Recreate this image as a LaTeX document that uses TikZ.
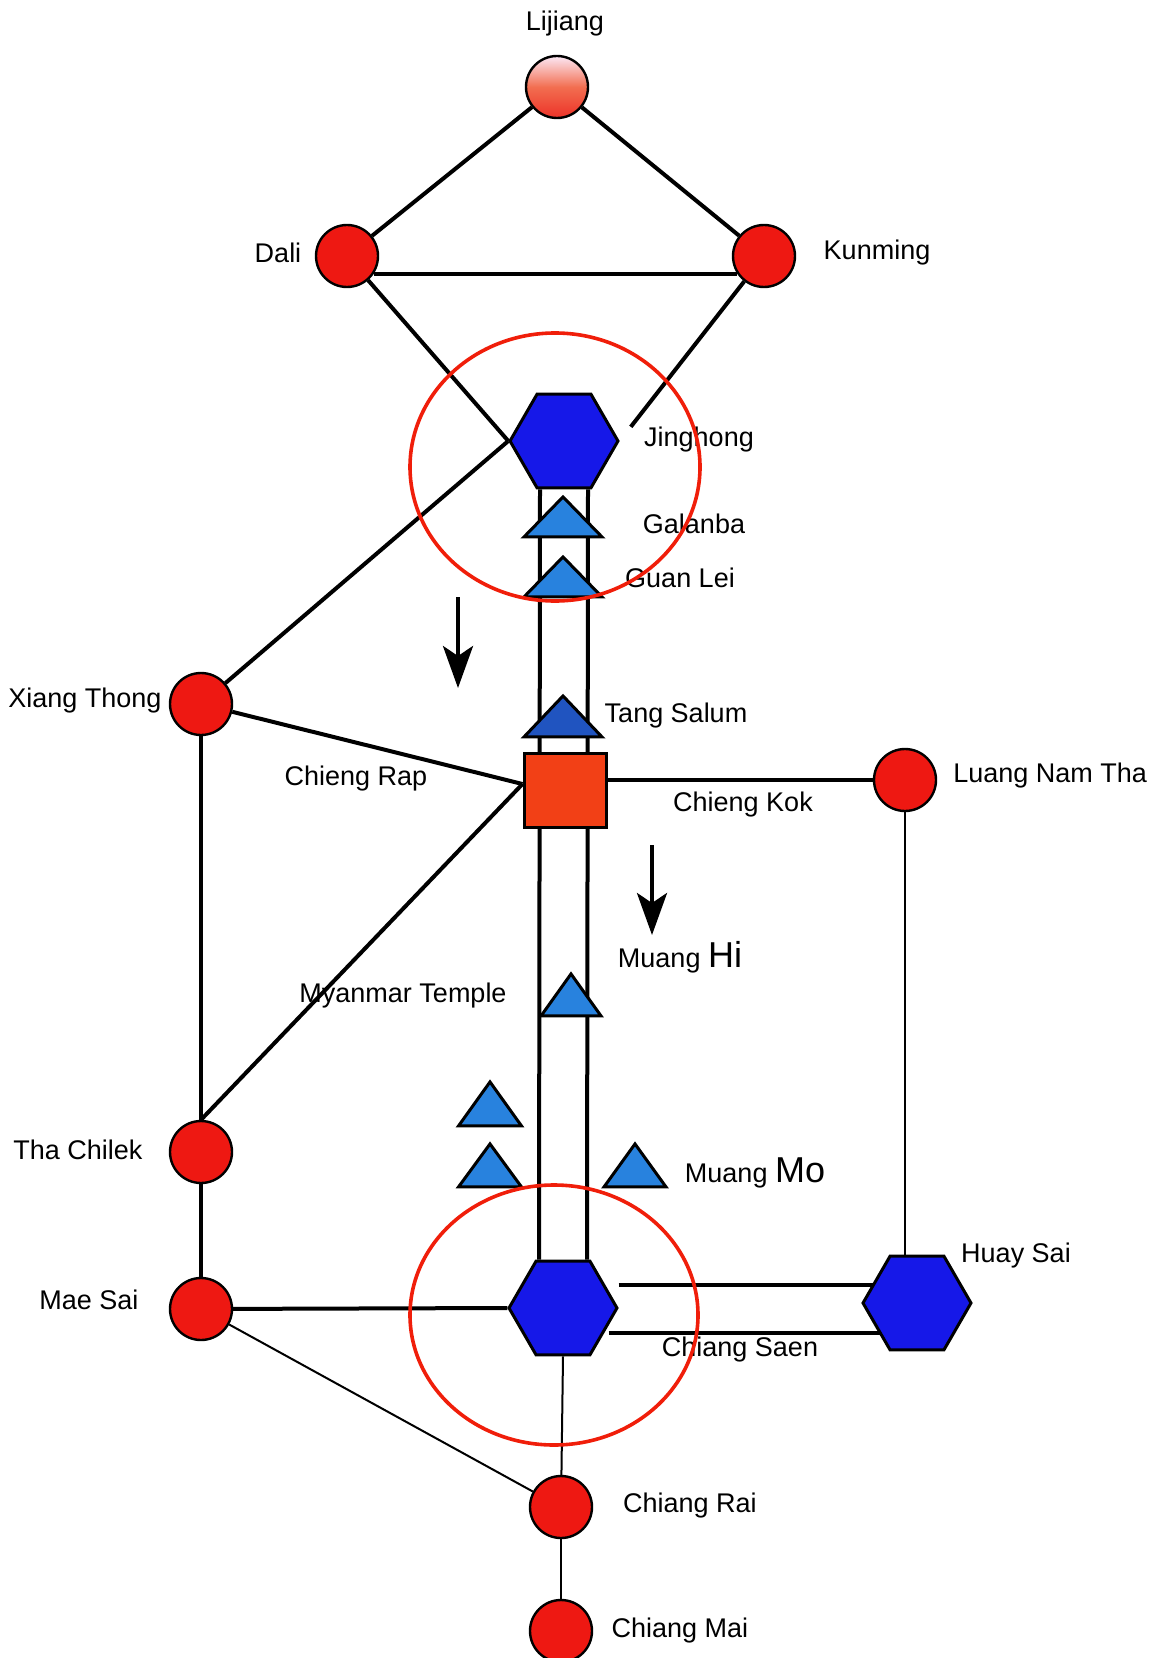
\documentclass[tikz,border=0pt]{standalone}
\usepackage{fontspec}
\setmainfont{Liberation Sans}
\usepackage{tikz}
\usetikzlibrary{shapes,arrows.meta,calc,backgrounds}
\definecolor{stnred}{RGB}{238,24,18}
\definecolor{hexblue}{RGB}{22,24,232}
\definecolor{triblue}{RGB}{40,130,222}
\definecolor{tsblue}{RGB}{32,84,192}
\definecolor{sqred}{RGB}{242,64,22}
\definecolor{ringred}{RGB}{240,30,10}
\definecolor{ljtop}{RGB}{252,232,245}
\definecolor{ljmid}{RGB}{242,110,80}
\definecolor{ljbot}{RGB}{236,50,40}
\tikzset{stn/.style={circle,draw,line width=1.2pt,fill=stnred,minimum size=31pt,inner sep=0pt},
  hex/.style={regular polygon,regular polygon sides=6,draw,line width=1.5pt,fill=hexblue,minimum size=54pt,inner sep=0pt},
  tri/.style={isosceles triangle,isosceles triangle stretches,shape border rotate=90,draw,line width=1.5pt,fill=triblue,inner sep=0pt,anchor=apex},
  sq/.style={rectangle,draw,line width=1.5pt,fill=sqred,minimum width=41pt,minimum height=37pt,inner sep=0pt},
  lbl/.style={font=\fontsize{13.5}{16}\selectfont,inner sep=1pt},
  rd/.style={line width=2pt},
  thin/.style={line width=1pt},
  ring/.style={line width=1.8pt,draw=ringred}}

\begin{document}
\begin{tikzpicture}[x=0.5pt,y=-0.5pt,>={Stealth[length=21pt,width=15pt,inset=5pt]}]
  \useasboundingbox (0,0) rectangle (1150,1658);

  % stations
  \node[stn,top color=ljtop,bottom color=ljbot,middle color=ljmid] (lj) at (557,87) {};
  \node[stn] (dali) at (347,256) {};
  \node[stn] (km) at (764,256) {};
  \node[hex] (jh) at (564,441) {};
  \node[tri,minimum width=39pt,minimum height=20pt] (gb) at (563,493) {};
  \node[tri,minimum width=39pt,minimum height=20pt] (gl) at (563,553) {};
  \node[tri,fill=tsblue,minimum width=39pt,minimum height=20.5pt] (ts) at (563,692) {};
  \node[sq] (cr) at (565,790) {};
  \node[stn] (lnt) at (905,780) {};
  \node[stn] (xt) at (201,704) {};
  \node[tri,minimum width=30pt,minimum height=21pt] (mh) at (571,970) {};
  \node[tri,minimum width=31.5pt,minimum height=22pt] (m1) at (490,1078) {};
  \node[tri,minimum width=31.5pt,minimum height=21.5pt] (m2) at (490,1140) {};
  \node[tri,minimum width=31pt,minimum height=21.5pt] (m3) at (635,1140) {};
  \node[stn] (tc) at (201,1152) {};
  \node[stn] (ms) at (201,1309) {};
  \node[hex] (jl) at (563,1308) {};
  \node[hex] (hs) at (917,1303) {};
  \node[stn] (crai) at (561,1507) {};
  \node[stn] (cm) at (561,1631) {};

  % names
  \node[lbl] (t-lj) at (565,24) {Lijiang};
  \node[lbl] (t-dali) at (278,253) {Dali};
  \node[lbl] (t-km) at (877,253) {Kunming};
  \node[lbl] (t-jh) at (699,440) {Jinghong};
  \node[lbl] (t-gb) at (694,524) {Galanba};
  \node[lbl] (t-gl) at (680,578) {Guan Lei};
  \node[lbl] (t-ts) at (676,716) {Tang Salum};
  \node[lbl] (t-cr) at (356,779) {Chieng Rap};
  \node[lbl] (t-ck) at (743,805) {Chieng Kok};
  \node[lbl,anchor=west] (t-lnt) at (951,776) {Luang Nam Tha};
  \node[lbl] (t-xt) at (85,701) {Xiang Thong};
  \node[lbl] (t-mh) at (680,957) {Muang {\fontsize{18}{20}\selectfont Hi}};
  \node[lbl] (t-mt) at (403,996) {Myanmar Temple};
  \node[lbl] (t-mm) at (755,1173) {Muang {\fontsize{18}{20}\selectfont Mo}};
  \node[lbl] (t-tc) at (78,1150) {Tha Chilek};
  \node[lbl] (t-ms) at (89,1300) {Mae Sai};
  \node[lbl] (t-hs) at (1016,1256) {Huay Sai};
  \node[lbl] (t-cs) at (740,1350) {Chiang Saen};
  \node[lbl] (t-crai) at (690,1505) {Chiang Rai};
  \node[lbl] (t-cm) at (680,1630) {Chiang Mai};

  % routes
  \begin{scope}[on background layer]
    \draw[rd] (lj) -- (dali);
    \draw[rd] (lj) -- (km);
    \draw[rd] (dali.-33) -- (km.-147);
    \draw[rd] (dali) -- (jh.west);
    \draw[rd,shorten >=9pt] (km) -- (jh.east);
    \draw[rd] (xt) -- (jh.west);
    \draw[rd] (xt) -- ([yshift=3pt]cr.west);
    \draw[rd] (tc.north) -- ([yshift=3pt]cr.west);
    \draw[rd] (xt) -- (tc);
    \draw[rd] (tc) -- (ms);
    \draw[rd] (ms) -- (jl.west);
    \draw[thin] (ms) -- (crai);
    \draw[thin] (jl.south) -- (crai);
    \draw[thin] (crai) -- (cm);
    \draw[rd] (cr.east |- lnt) -- (lnt);
    \draw[thin] (lnt) -- (lnt |- hs.north);
    \draw[rd] ([xshift=-12pt]jh.south) -- ([xshift=-12pt]jl.north);
    \draw[rd] ([xshift=12pt]jh.south) -- ([xshift=12pt]jl.north);
    \draw[rd] ([yshift=11.5pt]jl.east) -- ([xshift=8pt,yshift=11.5pt]jl.east -| hs.west);
    \draw[rd] ([xshift=-5pt,yshift=-12.5pt]jl.east) -- ([xshift=10pt,yshift=-12.5pt]jl.east -| hs.west);
  \end{scope}

  % direction arrows
  \coordinate (a1) at (458,597);
  \coordinate (a1e) at (458,688);
  \coordinate (a2) at (652,845);
  \coordinate (a2e) at (652,935);
  \draw[rd,->] (a1) -- (a1e);
  \draw[rd,->] (a2) -- (a2e);

  % border rings
  \draw[ring] (555,467) ellipse [x radius=145,y radius=134];
  \draw[ring] (554,1315) ellipse [x radius=144,y radius=130];
\end{tikzpicture}
\end{document}
